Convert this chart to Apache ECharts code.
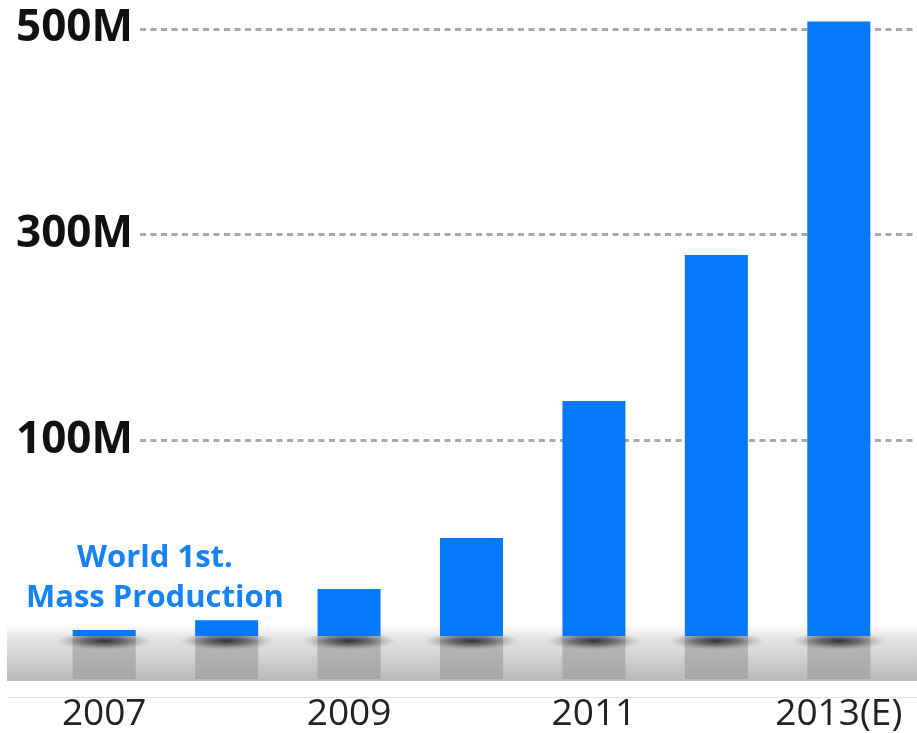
<!DOCTYPE html>
<html>
<head>
<meta charset="utf-8">
<script src="https://cdn.jsdelivr.net/npm/echarts@6/dist/echarts.min.js"></script>
<style>
  html, body { margin: 0; padding: 0; background: #fff; }
  #chart { width: 917px; height: 733px; }
</style>
</head>
<body>
<div id="chart"></div>
<script>
// ---- data (millions of units) ----
const categories = ['2007', '2008', '2009', '2010', '2011', '2012', '2013(E)'];
const values = [3, 8, 24, 50, 138, 280, 507];
const tickValues = [100, 300, 500];
const tickSuffix = 'M';
const annotation = ['World 1st.', 'Mass Production'];

const FONT = '"Open Sans", "DejaVu Sans", sans-serif';
const BAR_COLOR = '#0679fb';

const chart = echarts.init(document.getElementById('chart'), null, { renderer: 'canvas' });

const option = {
  backgroundColor: '#ffffff',
  animation: false,
  grid: [
    // lower segment 0..100M
    { left: 43, right: 17, top: 440, bottom: 95 },
    // upper segment 100M..
    { left: 43, right: 17, top: 0, height: 440 },
    // gridlines + labels for the upper segment
    { left: 140, right: 2, top: 0, height: 440 }
  ],
  xAxis: [
    {
      type: 'category', gridIndex: 0, data: categories,
      axisLine: { show: false }, axisTick: { show: false },
      axisLabel: { interval: 1, color: '#222', fontFamily: FONT, fontSize: 37, margin: 60 }
    },
    { type: 'category', gridIndex: 1, data: categories, show: false },
    { type: 'value', gridIndex: 2, min: 0, max: 1, show: false }
  ],
  yAxis: [
    { type: 'value', gridIndex: 0, min: 0, max: 100, show: false },
    { type: 'value', gridIndex: 1, min: 100, max: 528, show: false },
    {
      type: 'value', gridIndex: 2, min: tickValues[0], max: 528, interval: tickValues[1] - tickValues[0],
      axisLine: { show: false }, axisTick: { show: false },
      axisLabel: {
        showMaxLabel: false, margin: 7, color: '#111', fontFamily: FONT, fontWeight: 'bold', fontSize: 44,
        formatter: v => (tickValues.indexOf(v) >= 0 ? v + tickSuffix : '')
      },
      splitLine: { show: true, showMaxLine: false, lineStyle: { color: '#a9a9a9', width: 3, type: [6, 4.5] } }
    }
  ],
  graphic: [
    {
      type: 'rect', z: 0, silent: true,
      shape: { x: 7, y: 622, width: 910, height: 59 },
      style: {
        fill: new echarts.graphic.LinearGradient(0, 0, 0, 1, [
          { offset: 0, color: 'rgba(240,240,240,0)' },
          { offset: 0.25, color: '#e6e6e6' },
          { offset: 1, color: '#b9b9b9' }
        ])
      }
    },
    {
      type: 'rect', z: 0, silent: true,
      shape: { x: 7, y: 697, width: 910, height: 1 },
      style: { fill: '#e6e6e6' }
    },
    {
      type: 'text', z: 10, silent: true,
      x: 155, y: 538,
      style: {
        text: annotation.join('\n'),
        align: 'center', verticalAlign: 'top',
        fill: '#1783f3', font: 'bold 31px ' + FONT, lineHeight: 40
      }
    }
  ],
  series: [
    {
      type: 'custom', xAxisIndex: 0, yAxisIndex: 0, z: 1, silent: true, clip: false,
      data: categories.map((c, i) => [i, 0]),
      encode: { x: 0, y: 1 },
      renderItem: function (params, api) {
        const p = api.coord([api.value(0), 0]);
        const w = api.size([1, 0])[0] * 0.515;
        const R = w / 2 + 16;
        return {
          type: 'group',
          children: [
            {
              type: 'rect',
              shape: { x: p[0] - w / 2, y: p[1], width: w, height: 43 },
              style: { fill: 'rgba(150,150,150,0.55)' }
            },
            {
              type: 'circle',
              x: p[0], y: p[1] + 5, scaleY: 9 / R,
              shape: { cx: 0, cy: 0, r: R },
              style: {
                fill: new echarts.graphic.RadialGradient(0.5, 0.5, 0.5, [
                  { offset: 0, color: 'rgba(25,25,25,0.85)' },
                  { offset: 0.45, color: 'rgba(50,50,50,0.55)' },
                  { offset: 1, color: 'rgba(120,120,120,0)' }
                ])
              }
            }
          ]
        };
      }
    },
    {
      type: 'bar', xAxisIndex: 0, yAxisIndex: 0, z: 2, barWidth: 63,
      data: values, itemStyle: { color: BAR_COLOR }
    },
    {
      type: 'bar', xAxisIndex: 1, yAxisIndex: 1, z: 2, barWidth: 63,
      data: values, itemStyle: { color: BAR_COLOR }
    }
  ]
};

chart.setOption(option);
</script>
</body>
</html>
